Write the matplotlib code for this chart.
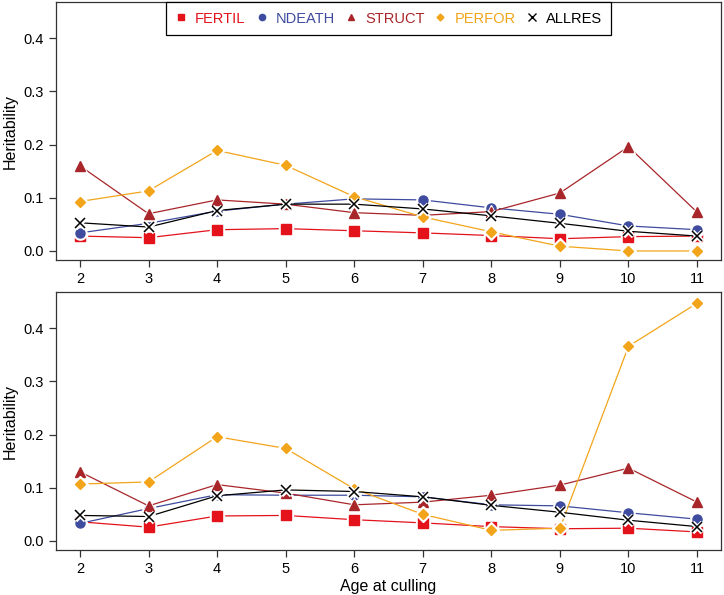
import matplotlib
matplotlib.use("Agg")
import matplotlib.pyplot as plt
from matplotlib.lines import Line2D

plt.rcParams['font.family'] = ['Liberation Sans', 'DejaVu Sans']

ages = [2, 3, 4, 5, 6, 7, 8, 9, 10, 11]
series_names = ["FERTIL", "NDEATH", "STRUCT", "PERFOR", "ALLRES"]

# Top panel
top_fertil = [0.028, 0.025, 0.040, 0.042, 0.038, 0.034, 0.029, 0.023, 0.027, 0.028]
top_ndeath = [0.034, 0.052, 0.075, 0.088, 0.098, 0.096, 0.081, 0.069, 0.047, 0.040]
top_struct = [0.160, 0.070, 0.096, 0.088, 0.072, 0.067, 0.074, 0.109, 0.196, 0.073]
top_perfor = [0.093, 0.113, 0.189, 0.161, 0.102, 0.064, 0.036, 0.009, 0.000, 0.000]
top_allres = [0.053, 0.045, 0.076, 0.088, 0.088, 0.079, 0.066, 0.052, 0.037, 0.028]

# Bottom panel
bot_fertil = [0.036, 0.026, 0.047, 0.048, 0.040, 0.034, 0.027, 0.023, 0.024, 0.017]
bot_ndeath = [0.033, 0.061, 0.087, 0.086, 0.086, 0.083, 0.068, 0.066, 0.053, 0.041]
bot_struct = [0.130, 0.066, 0.106, 0.090, 0.068, 0.073, 0.086, 0.105, 0.137, 0.073]
bot_perfor = [0.107, 0.111, 0.196, 0.174, 0.098, 0.050, 0.020, 0.024, 0.366, 0.447]
bot_allres = [0.048, 0.046, 0.085, 0.096, 0.093, 0.083, 0.067, 0.054, 0.039, 0.027]

yticks = [0.0, 0.1, 0.2, 0.3, 0.4]
ytick_labels = ["0.0", "0.1", "0.2", "0.3", "0.4"]

colors = {"FERTIL": "#E3121B", "NDEATH": "#3E4B9E", "STRUCT": "#A8262A",
          "PERFOR": "#F2A51A", "ALLRES": "#000000"}
markers = {"FERTIL": "s", "NDEATH": "o", "STRUCT": "^", "PERFOR": "D", "ALLRES": "x"}
msizes = {"FERTIL": 6.5, "NDEATH": 6.5, "STRUCT": 7.5, "PERFOR": 4.8, "ALLRES": 7.5}

fig = plt.figure(figsize=(7.24, 5.95), dpi=100)
ax1 = fig.add_axes([0.0773, 0.563, 0.9186, 0.4336])
ax2 = fig.add_axes([0.0773, 0.0756, 0.9186, 0.4336])

def draw(ax, data):
    z = 2
    for name in series_names:
        vals = data[name]
        c = colors[name]
        ax.plot(ages, vals, color=c, lw=0.9, zorder=z)
        if markers[name] != "x":
            ax.plot(ages, vals, ls='none', marker=markers[name], ms=msizes[name] + 3,
                    mfc='white', mec='white', zorder=z + 0.5)
            ax.plot(ages, vals, ls='none', marker=markers[name], ms=msizes[name],
                    mfc=c, mec=c, zorder=z + 0.6)
        else:
            ax.plot(ages, vals, ls='none', marker='x', ms=msizes[name], mew=3.5,
                    mec='white', zorder=z + 0.5)
            ax.plot(ages, vals, ls='none', marker='x', ms=msizes[name], mew=1.1,
                    mec=c, zorder=z + 0.6)
        z += 1
    ax.set_xlim(1.65, 11.35)
    ax.set_ylim(-0.017, 0.468)
    ax.set_xticks(ages)
    ax.set_xticklabels([str(a) for a in ages])
    ax.set_yticks(yticks)
    ax.set_yticklabels(ytick_labels)
    ax.tick_params(direction='out', length=5, width=0.9, labelsize=10.5, color='#333333')
    for s in ax.spines.values():
        s.set_linewidth(0.9)
        s.set_color('#333333')
    ax.set_ylabel("Heritability", fontsize=11.5)
    ax.yaxis.set_label_coords(-0.058, 0.5)

draw(ax1, {"FERTIL": top_fertil, "NDEATH": top_ndeath, "STRUCT": top_struct,
           "PERFOR": top_perfor, "ALLRES": top_allres})
draw(ax2, {"FERTIL": bot_fertil, "NDEATH": bot_ndeath, "STRUCT": bot_struct,
           "PERFOR": bot_perfor, "ALLRES": bot_allres})
ax2.set_xlabel("Age at culling", fontsize=11.5, labelpad=2)

handles = []
for name in series_names:
    c = colors[name]
    if markers[name] == "x":
        h = Line2D([], [], ls='none', marker='x', ms=5.5, mew=1.0, mec=c)
    else:
        h = Line2D([], [], ls='none', marker=markers[name], ms=4.5 if markers[name] != 'D' else 3.5,
                   mfc=c, mec=c)
    handles.append(h)
leg = ax1.legend(handles, series_names, loc='upper center', bbox_to_anchor=(0.5, 1.0),
                 ncol=5, frameon=True, fancybox=False, edgecolor='black', framealpha=1,
                 fontsize=10.5, handlelength=0.8, handletextpad=0.56, columnspacing=0.7,
                 borderpad=0.65, borderaxespad=0.0,
                 labelcolor=[colors[n] for n in series_names])
leg.get_frame().set_linewidth(0.9)

fig.savefig("out.png", dpi=100)
